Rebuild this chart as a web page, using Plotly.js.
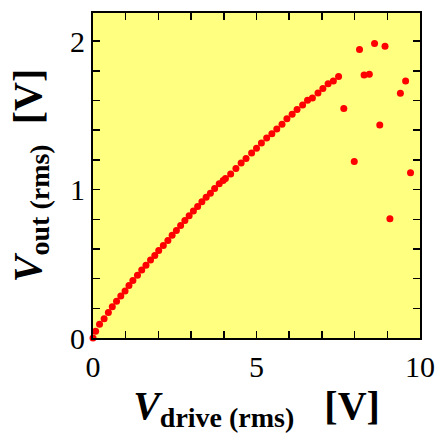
<!DOCTYPE html>
<html>
<head>
<meta charset="utf-8">
<script src="https://cdn.plot.ly/plotly-3.0.1.min.js"></script>
<style>html,body{margin:0;padding:0;background:#fff;}</style>
</head>
<body>
<div id="chart" style="width:438px;height:434px;"></div>
<script>
// Drive voltage (rms) [V]
const vDrive = [0.00,0.08,0.20,0.34,0.47,0.59,0.72,0.85,0.98,1.10,1.22,1.36,1.49,1.62,1.76,1.89,2.01,2.15,2.29,2.42,2.55,2.68,2.81,2.94,3.07,3.20,3.33,3.46,3.59,3.72,3.86,3.98,4.05,4.21,4.37,4.53,4.68,4.85,5.00,5.15,5.31,5.47,5.62,5.78,5.93,6.09,6.24,6.41,6.56,6.71,6.88,7.03,7.19,7.35,7.51,
  7.67,7.99,8.15,8.29,8.45,8.61,8.77,8.93,9.08,9.40,9.56,9.71];
// Output voltage (rms) [V]
const vOut = [0.000,0.045,0.092,0.130,0.171,0.211,0.247,0.283,0.317,0.353,0.387,0.423,0.459,0.490,0.526,0.556,0.589,0.623,0.657,0.693,0.724,0.758,0.792,0.823,0.855,0.886,0.918,0.949,0.976,1.008,1.039,1.062,1.075,1.105,1.143,1.179,1.210,1.246,1.278,1.314,1.348,1.377,1.408,1.440,1.478,1.507,1.539,1.570,1.602,1.618,1.651,1.681,1.714,1.732,1.762,
  1.546,1.190,1.944,1.773,1.777,1.984,1.435,1.966,0.803,1.649,1.732,1.114];
const xTicks = [0,5,10];
const yTicks = [0,1,2];

const tickFont = {family:'"Liberation Serif","Times New Roman",serif', size:30, color:'#000'};
const titleFont = {family:'"Liberation Serif","Times New Roman",serif', size:40, color:'#000'};

const trace = {
  x: vDrive, y: vOut, type:'scatter', mode:'markers',
  marker:{color:'#ff0000', size:7, line:{width:0}},
  cliponaxis:false, hoverinfo:'none'
};

const axisCommon = {
  showgrid:false, zeroline:false, showline:true, linecolor:'#000', linewidth:2,
  mirror:'allticks', ticks:'inside', ticklen:7, tickwidth:1.5, tickcolor:'#000',
  tickfont:tickFont, tickmode:'array'
};

const layout = {
  width:438, height:434,
  margin:{l:93, r:18, t:13, b:96},
  paper_bgcolor:'#ffffff', plot_bgcolor:'#ffff80',
  showlegend:false,
  xaxis: Object.assign({}, axisCommon, {
    range:[0,10], tickvals:xTicks, ticktext:xTicks.map(String),
    minor:{dtick:1, ticks:'inside', ticklen:7, tickwidth:1.5, tickcolor:'#000'},
    ticklabelstandoff:1,
    title:{text:'<b><i>V</i><sub>drive (rms)</sub>&#160;&#160;&#160;[V]</b>', font:titleFont, standoff:5}
  }),
  yaxis: Object.assign({}, axisCommon, {
    range:[0,2.19], tickvals:yTicks, ticktext:yTicks.map(String),
    minor:{dtick:0.2, ticks:'inside', ticklen:7, tickwidth:1.5, tickcolor:'#000'},
    ticklabelstandoff:0,
    title:{text:'<b><i>V</i><sub>out (rms)</sub>&#160;&#160;[V]</b>', font:titleFont, standoff:16}
  })
};

Plotly.newPlot('chart', [trace], layout, {staticPlot:true, displayModeBar:false});
</script>
</body>
</html>
